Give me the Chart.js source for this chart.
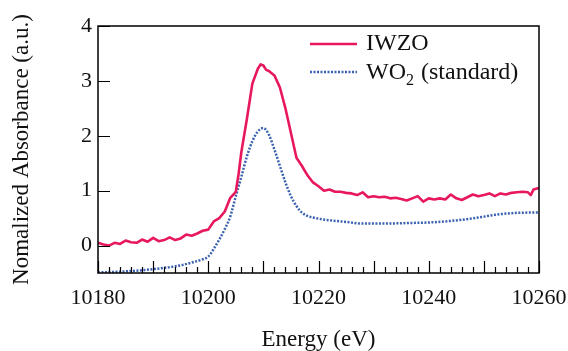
<!DOCTYPE html>
<html>
<head>
<meta charset="utf-8">
<script src="https://cdn.jsdelivr.net/npm/chart.js@4/dist/chart.umd.min.js"></script>
<style>
  html, body { margin: 0; padding: 0; background: #fff; }
  #wrap { width: 568px; height: 351px; }
  #warm { position: absolute; left: -1000px; top: 0; font-family: "Liberation Serif"; font-size: 20px; }
</style>
</head>
<body>
<div id="warm">IWZO Energy 0123456789</div>
<div id="wrap"><canvas id="c"></canvas></div>
<script>
// energy (eV) / absorbance
const iwzoEnergy = [10180, 10181, 10182, 10183, 10184, 10185, 10186, 10187, 10188, 10189,
  10190, 10191, 10192, 10193, 10194, 10195, 10196, 10197, 10198, 10199,
  10200, 10201, 10202, 10203, 10204, 10205, 10205.5, 10206, 10207, 10208,
  10209, 10209.5, 10210, 10210.5, 10211, 10212, 10213, 10214, 10215, 10216,
  10217, 10218, 10219, 10220, 10221, 10222, 10223, 10224, 10225, 10226,
  10227, 10228, 10229, 10230, 10231, 10232, 10233, 10234, 10235, 10236,
  10237, 10238, 10239, 10240, 10241, 10242, 10243, 10244, 10245, 10246,
  10247, 10248, 10249, 10250, 10251, 10252, 10253, 10254, 10255, 10256,
  10257, 10258, 10258.5, 10259, 10260];
const iwzoAbs = [0.05, 0.02, 0.0, 0.05, 0.03, 0.09, 0.06, 0.05, 0.11, 0.07,
  0.14, 0.08, 0.1, 0.15, 0.1, 0.13, 0.2, 0.18, 0.22, 0.27,
  0.29, 0.44, 0.5, 0.62, 0.87, 0.98, 1.3, 1.7, 2.3, 2.95,
  3.22, 3.3, 3.28, 3.2, 3.18, 3.1, 2.88, 2.5, 2.05, 1.6,
  1.45, 1.28, 1.15, 1.08, 1.0, 1.02, 0.98, 0.98, 0.96, 0.95,
  0.92, 0.97, 0.88, 0.9, 0.88, 0.89, 0.86, 0.87, 0.85, 0.82,
  0.86, 0.9, 0.8, 0.86, 0.84, 0.86, 0.84, 0.93, 0.86, 0.83,
  0.88, 0.93, 0.9, 0.92, 0.95, 0.9, 0.95, 0.93, 0.96, 0.97,
  0.98, 0.97, 0.92, 1.02, 1.05];

const wo2Energy = [10180, 10185, 10190, 10195, 10197, 10199, 10200, 10201, 10202, 10203,
  10204, 10205, 10206, 10207, 10208, 10209, 10210, 10211, 10212, 10213,
  10214, 10215, 10216, 10217, 10218, 10219, 10220, 10222, 10225, 10228,
  10232, 10236, 10240, 10243, 10246, 10249, 10252, 10255, 10258, 10260];
const wo2Abs = [-0.49, -0.47, -0.43, -0.36, -0.31, -0.25, -0.2, -0.06, 0.11, 0.3,
  0.53, 0.9, 1.25, 1.62, 1.9, 2.08, 2.14, 2.02, 1.75, 1.45,
  1.15, 0.9, 0.72, 0.6, 0.54, 0.51, 0.49, 0.46, 0.43, 0.4,
  0.4, 0.41, 0.42, 0.44, 0.47, 0.51, 0.56, 0.59, 0.6, 0.6];

const xLabels = [10180, 10200, 10220, 10240, 10260];
const yLabels = [0, 1, 2, 3, 4];

const red = "#e8185c";
const blue = "#3b62b0";
const serif = '"Liberation Serif"';

// frame, inward ticks and legend
const decor = {
  id: "decor",
  afterDraw(chart) {
    const { ctx, chartArea: a, scales } = chart;
    const x = scales.x, y = scales.y;
    ctx.save();
    ctx.strokeStyle = "#000";
    ctx.lineWidth = 1.5;
    ctx.strokeRect(a.left, a.top, a.right - a.left, a.bottom - a.top);
    ctx.lineWidth = 1.2;
    ctx.beginPath();
    for (let e = 10180; e <= 10260; e += 2) {
      const px = Math.round(x.getPixelForValue(e)) + 0.5;
      const len = e % 10 === 0 ? 12 : 6;
      ctx.moveTo(px, a.bottom);
      ctx.lineTo(px, a.bottom - len);
    }
    yLabels.forEach(v => {
      const py = Math.round(y.getPixelForValue(v)) + 0.5;
      ctx.moveTo(a.left, py);
      ctx.lineTo(a.left + 12, py);
    });
    ctx.stroke();

    // legend
    ctx.lineWidth = 2.5;
    ctx.strokeStyle = red;
    ctx.beginPath();
    ctx.moveTo(310, 44);
    ctx.lineTo(357, 44);
    ctx.stroke();
    ctx.strokeStyle = blue;
    ctx.setLineDash([2, 1.5]);
    ctx.beginPath();
    ctx.moveTo(310, 72);
    ctx.lineTo(357, 72);
    ctx.stroke();
    ctx.setLineDash([]);
    ctx.fillStyle = "#111";
    ctx.textBaseline = "middle";
    ctx.font = "24px " + serif;
    ctx.fillText("IWZO", 366, 44);
    ctx.fillText("WO", 366, 73);
    const w = ctx.measureText("WO").width;
    ctx.font = "16px " + serif;
    ctx.fillText("2", 366 + w, 81);
    ctx.font = "24px " + serif;
    ctx.fillText("(standard)", 366 + w + 15, 73);
    ctx.restore();
  }
};

function draw() {
  new Chart(document.getElementById("c"), {
    type: "line",
    data: {
      datasets: [
        {
          label: "IWZO",
          data: iwzoEnergy.map((e, i) => ({ x: e, y: iwzoAbs[i] })),
          borderColor: red,
          borderWidth: 2.6,
          borderJoinStyle: "round",
          pointRadius: 0,
          tension: 0
        },
        {
          label: "WO2 (standard)",
          data: wo2Energy.map((e, i) => ({ x: e, y: wo2Abs[i] })),
          borderColor: blue,
          borderWidth: 2.5,
          borderDash: [2, 1.5],
          pointRadius: 0,
          cubicInterpolationMode: "monotone"
        }
      ]
    },
    options: {
      responsive: true,
      maintainAspectRatio: false,
      animation: false,
      layout: { padding: { top: 26, right: 29, left: 0, bottom: 0 } },
      plugins: { legend: { display: false }, tooltip: { enabled: false } },
      scales: {
        x: {
          type: "linear",
          min: 10180,
          max: 10260,
          grid: { display: false, drawTicks: false },
          border: { display: false },
          afterBuildTicks: s => { s.ticks = xLabels.map(v => ({ value: v })); },
          afterFit: s => { s.height = 78; s.paddingLeft = 0; s.paddingRight = 0; },
          ticks: {
            color: "#111",
            padding: 12,
            maxRotation: 0,
            callback: v => String(v),
            font: { family: serif, size: 22 }
          },
          title: {
            display: true,
            text: "Energy (eV)",
            color: "#111",
            padding: { top: 0, bottom: -3 },
            font: { family: serif, size: 23 }
          }
        },
        y: {
          min: -0.5,
          max: 4,
          grid: { display: false, drawTicks: false },
          border: { display: false },
          afterBuildTicks: s => { s.ticks = yLabels.map(v => ({ value: v })); },
          afterFit: s => { s.width = 98; s.paddingTop = 0; s.paddingBottom = 0; },
          ticks: {
            color: "#111",
            padding: 6,
            font: { family: serif, size: 22 }
          },
          title: {
            display: true,
            text: "Nomalized Absorbance (a.u.)",
            color: "#111",
            padding: { top: 8, bottom: 0 },
            font: { family: serif, size: 23 }
          }
        }
      }
    },
    plugins: [decor]
  });
}

// make sure the serif face is ready before the canvas uses it
document.fonts.load('22px "Liberation Serif"').then(draw, draw);
</script>
</body>
</html>
